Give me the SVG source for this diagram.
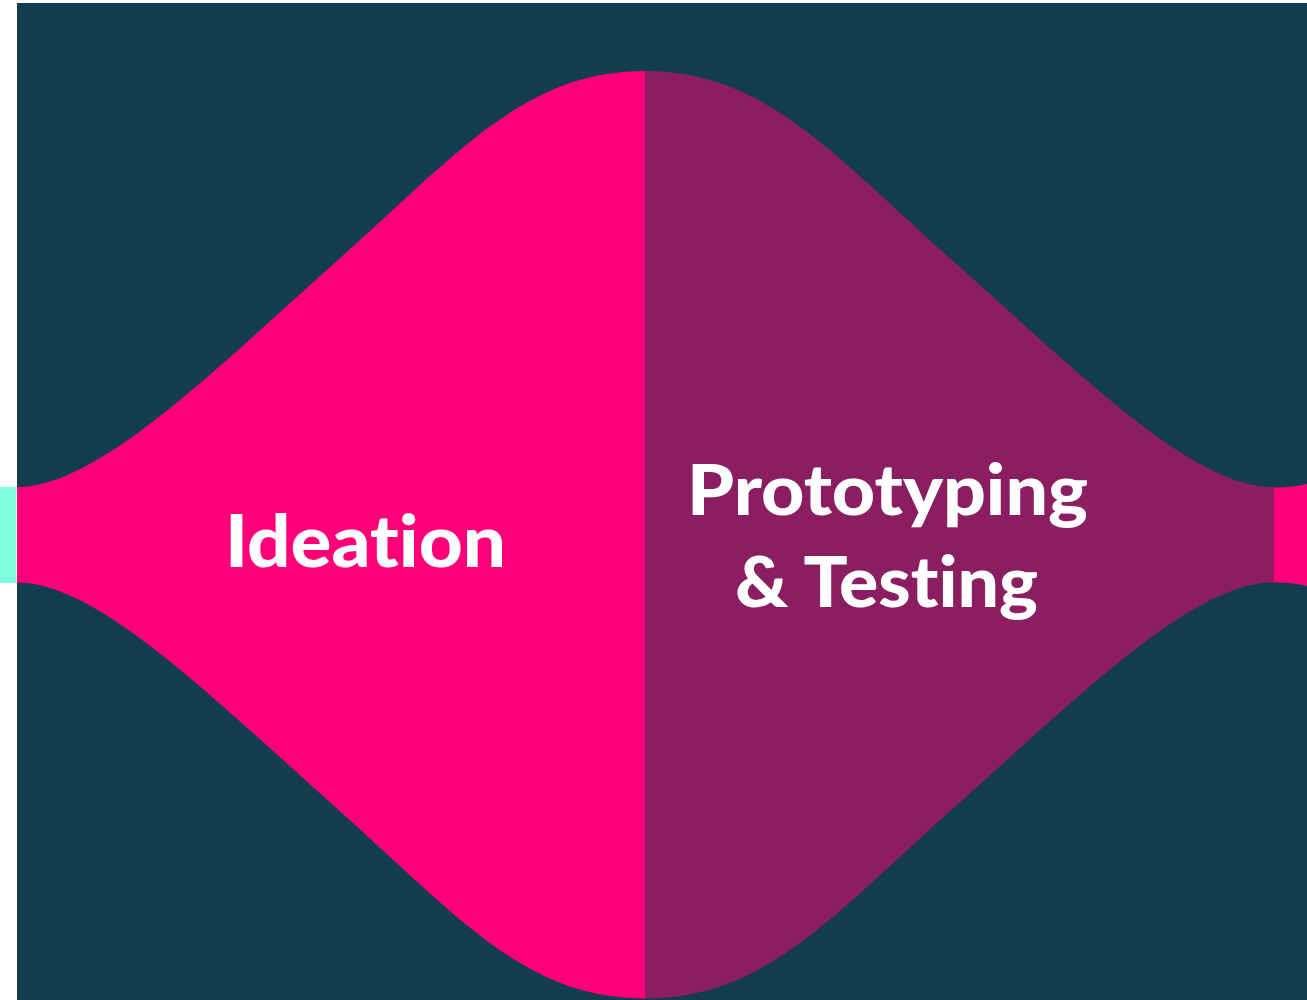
<svg xmlns="http://www.w3.org/2000/svg" width="1307" height="1000" viewBox="0 0 1307 1000">
<style>
.lbl{font-family:Lato,"Liberation Sans",sans-serif;font-weight:900;fill:#ffffff;text-anchor:middle;font-variant-ligatures:none;font-feature-settings:"liga" 0,"clig" 0}
</style>
<rect x="0" y="0" width="1307" height="1000" fill="#ffffff"/>
<rect id="background" x="17" y="3" width="1290" height="997" fill="#123D4E"/>
<g id="prev-stage">
<rect x="0" y="487" width="16.5" height="96" fill="#7DFFE0"/>
</g>
<g id="ideation">
<path d="M17,487 C97,487 208,376 338,260 C458,153 525,71 645,71 L645,998.5 C525,998.5 458,916.5 338,809.5 C208,693.5 97,582.5 17,582.5 Z" fill="#FF0078"/>
<text class="lbl" x="365.5" y="567" font-size="72" textLength="281" lengthAdjust="spacingAndGlyphs">Ideation</text>
</g>
<g id="prototyping">
<path d="M645,71 C765,71 832,153 952,260 C1082,376 1193,487 1273.5,487 L1273.5,582.5 C1193,582.5 1082,693.5 952,809.5 C832,916.5 765,998.5 645,998.5 Z" fill="#8A1E60"/>
<text class="lbl" x="887.5" y="515" font-size="71" textLength="401" lengthAdjust="spacingAndGlyphs">Prototyping</text>
<text class="lbl" x="886.5" y="607" font-size="71" textLength="303" lengthAdjust="spacingAndGlyphs">&amp; Testing</text>
</g>
<g id="next-stage">
<path d="M1273.5,487.5 C1288,487.5 1298,486 1307,484 L1307,586 C1298,584 1288,582.5 1273.5,582.5 Z" fill="#FF0078"/>
</g>
<g id="connectors"></g>
</svg>
